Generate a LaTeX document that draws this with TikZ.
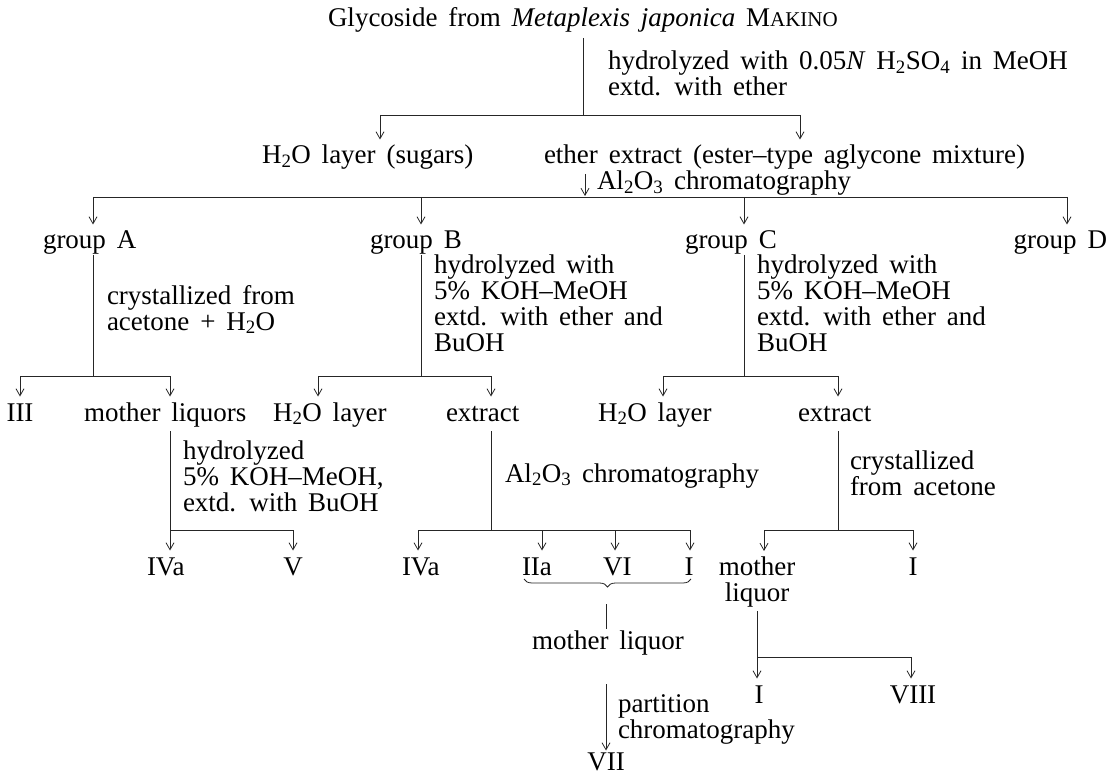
\documentclass[tikz,border=0pt]{standalone}
\usepackage{fontspec}
\setmainfont{Liberation Serif}[WordSpace={1.6}]
\usetikzlibrary{arrows.meta,decorations.pathreplacing}
\begin{document}
\begin{tikzpicture}[x=1pt,y=-1pt,
  every node/.style={inner sep=0pt,outer sep=0pt,font=\fontsize{27}{26}\selectfont},
  txt/.style={anchor=base west,text height=18.5pt,text depth=6pt},
  ctr/.style={anchor=base,text height=18.5pt,text depth=6pt},
  lbl/.style={anchor=north west,align=left},
  ln/.style={line width=0.8pt,draw=black!85},
  arr/.style={ln,-{Straight Barb[length=7pt,width=8pt,line width=0.8pt]}},
  toN/.style={shorten >=6pt},
]
\useasboundingbox (0,0) rectangle (1109,778);

% title
\node[txt] (title) at (328,27) {Glycoside from \textit{Metaplexis japonica} M{\fontsize{21}{21}\selectfont AKINO}};
\coordinate (t0) at (583,38);
\coordinate (j1) at (583,115);
\draw[ln] (t0) -- (j1);
\node[lbl] (l1) at (608,51) {hydrolyzed with 0.05\textit{N} H\textsubscript{2}SO\textsubscript{4} in MeOH\\extd. with ether};
\coordinate (s1L) at (380,115);
\coordinate (s1R) at (800,115);
\draw[ln] (s1L) -- (s1R);

% row 2
\node[txt] (h2o) at (262,164) {H\textsubscript{2}O layer (sugars)};
\node[txt] (eth) at (544,164) {ether extract (ester--type aglycone mixture)};
\draw[arr,toN] (s1L) -- (s1L |- h2o.north);
\draw[arr,toN] (s1R) -- (s1R |- eth.north);

\node[txt] (alc) at (597,190) {Al\textsubscript{2}O\textsubscript{3} chromatography};
\coordinate (alarr) at (585,196);
\draw[arr] ([yshift=-4pt]alarr |- eth.south) -- (alarr);

% split into groups
\coordinate (s2A) at (93,197);
\coordinate (s2B) at (421,197);
\coordinate (s2C) at (744,197);
\coordinate (s2D) at (1067,197);
\draw[ln] (s2A) -- (s2D);
\node[txt] (gA) at (43,249) {group A};
\node[txt] (gB) at (370,249) {group B};
\node[txt] (gC) at (685,249) {group C};
\node[anchor=base east,text height=18.5pt,text depth=6pt] (gD) at (1107,249) {group D};
\draw[arr,toN] (s2A) -- (s2A |- gA.north);
\draw[arr,toN] (s2B) -- (s2B |- gB.north);
\draw[arr,toN] (s2C) -- (s2C |- gC.north);
\draw[arr,toN] (s2D) -- (s2D |- gD.north);

% group verticals
\coordinate (vA) at (93,376);
\coordinate (vB) at (421,376);
\coordinate (vC) at (744,376);
\draw[ln] (vA |- gA.south) -- (vA);
\draw[ln] (vB |- gB.south) -- (vB);
\draw[ln] (vC |- gC.south) -- (vC);
\node[lbl] (labA) at (107,285) {crystallized from\\acetone~+~H\textsubscript{2}O};
\node[lbl] (labB) at (434,255) {hydrolyzed with\\5\% KOH--MeOH\\extd. with ether and\\BuOH};
\node[lbl] (labC) at (757,255) {hydrolyzed with\\5\% KOH--MeOH\\extd. with ether and\\BuOH};

% row 3 splits
\coordinate (sAL) at (20,376);
\coordinate (sAR) at (170,376);
\coordinate (sBL) at (318,376);
\coordinate (sBR) at (491,376);
\coordinate (sCL) at (663,376);
\coordinate (sCR) at (838,376);
\draw[ln] (sAL) -- (sAR);
\draw[ln] (sBL) -- (sBR);
\draw[ln] (sCL) -- (sCR);
\node[ctr] (r3) at (20,421) {III};
\node[txt] (mlq) at (84,421) {mother liquors};
\node[txt] (bh2o) at (273,421) {H\textsubscript{2}O layer};
\node[txt] (bext) at (446,421) {extract};
\node[txt] (ch2o) at (598,421) {H\textsubscript{2}O layer};
\node[txt] (cext) at (798,421) {extract};
\draw[arr,toN] (sAL) -- (sAL |- r3.north);
\draw[arr,toN] (sAR) -- (sAR |- mlq.north);
\draw[arr,toN] (sBL) -- (sBL |- bh2o.north);
\draw[arr,toN] (sBR) -- (sBR |- bext.north);
\draw[arr,toN] (sCL) -- (sCL |- ch2o.north);
\draw[arr,toN] (sCR) -- (sCR |- cext.north);

% mother liquors branch (group A)
\coordinate (sML) at (170,530);
\coordinate (sMR) at (293,530);
\draw[ln] ([yshift=-4pt]sML |- mlq.south) -- (sML) -- (sMR);
\node[lbl] (labM) at (183,441) {hydrolyzed\\5\% KOH--MeOH,\\extd. with BuOH};
\node[txt] (ivaA) at (147,575) {IVa};
\node[ctr] (vA5) at (293,575) {V};
\draw[arr,toN] (sML) -- (sML |- ivaA.north);
\draw[arr,toN] (sMR) -- (sMR |- vA5.north);

% extract branch (group B)
\coordinate (vBx) at (491,530);
\draw[ln] ([yshift=-4pt]vBx |- bext.south) -- (vBx);
\node[txt] (labBal) at (505,482) {Al\textsubscript{2}O\textsubscript{3} chromatography};
\coordinate (sB2a) at (418,530);
\coordinate (sB2b) at (542,530);
\coordinate (sB2c) at (615,530);
\coordinate (sB2d) at (690,530);
\draw[ln] (sB2a) -- (sB2d);
\node[txt] (ivaB) at (402,575) {IVa};
\node[txt] (iia) at (522,575) {IIa};
\node[txt] (vi) at (603,575) {VI};
\node[ctr] (iB) at (689,575) {I};
\draw[arr,toN] (sB2a) -- (sB2a |- ivaB.north);
\draw[arr,toN] (sB2b) -- (sB2b |- iia.north);
\draw[arr,toN] (sB2c) -- (sB2c |- vi.north);
\draw[arr,toN] (sB2d) -- (sB2d |- iB.north);

% brace and mother liquor (group B)
\coordinate (brL) at (524,579);
\coordinate (brR) at (691,579);
\draw[ln,decorate,decoration={brace,mirror,amplitude=8pt}] (brL) -- (brR);
\coordinate (bv1) at (606,604);
\node[txt] (mlB) at (532,649) {mother liquor};
\draw[ln] (bv1) -- ([yshift=2pt]bv1 |- mlB.north);
\coordinate (pv) at (606,684);
\node[ctr] (vii) at (606,770) {VII};
\draw[arr,shorten >=1pt] (pv) -- (vii.north);
\node[lbl] (labP) at (618,695) {partition\\chromatography};

% extract branch (group C)
\coordinate (vCx) at (838,530);
\draw[ln] ([yshift=-4pt]vCx |- cext.south) -- (vCx);
\node[lbl] (labCc) at (850,451) {crystallized\\from acetone};
\coordinate (sC2L) at (764,530);
\coordinate (sC2R) at (913,530);
\draw[ln] (sC2L) -- (sC2R);
\node[anchor=north,align=center] (cml) at (757,557) {mother\\liquor};
\node[ctr] (iC) at (913,575) {I};
\draw[arr,toN] (sC2L) -- (sC2L |- cml.north);
\draw[arr,toN] (sC2R) -- (sC2R |- iC.north);

% mother liquor branch (group C)
\coordinate (sC3L) at (757,657);
\coordinate (sC3R) at (911,657);
\draw[ln] ([yshift=-4pt]sC3L |- cml.south) -- (sC3L) -- (sC3R);
\node[ctr] (iC2) at (759,703) {I};
\node[ctr] (viii) at (913,703) {VIII};
\draw[arr,toN] (sC3L) -- (sC3L |- iC2.north);
\draw[arr,toN] (sC3R) -- (sC3R |- viii.north);
\end{tikzpicture}
\end{document}
